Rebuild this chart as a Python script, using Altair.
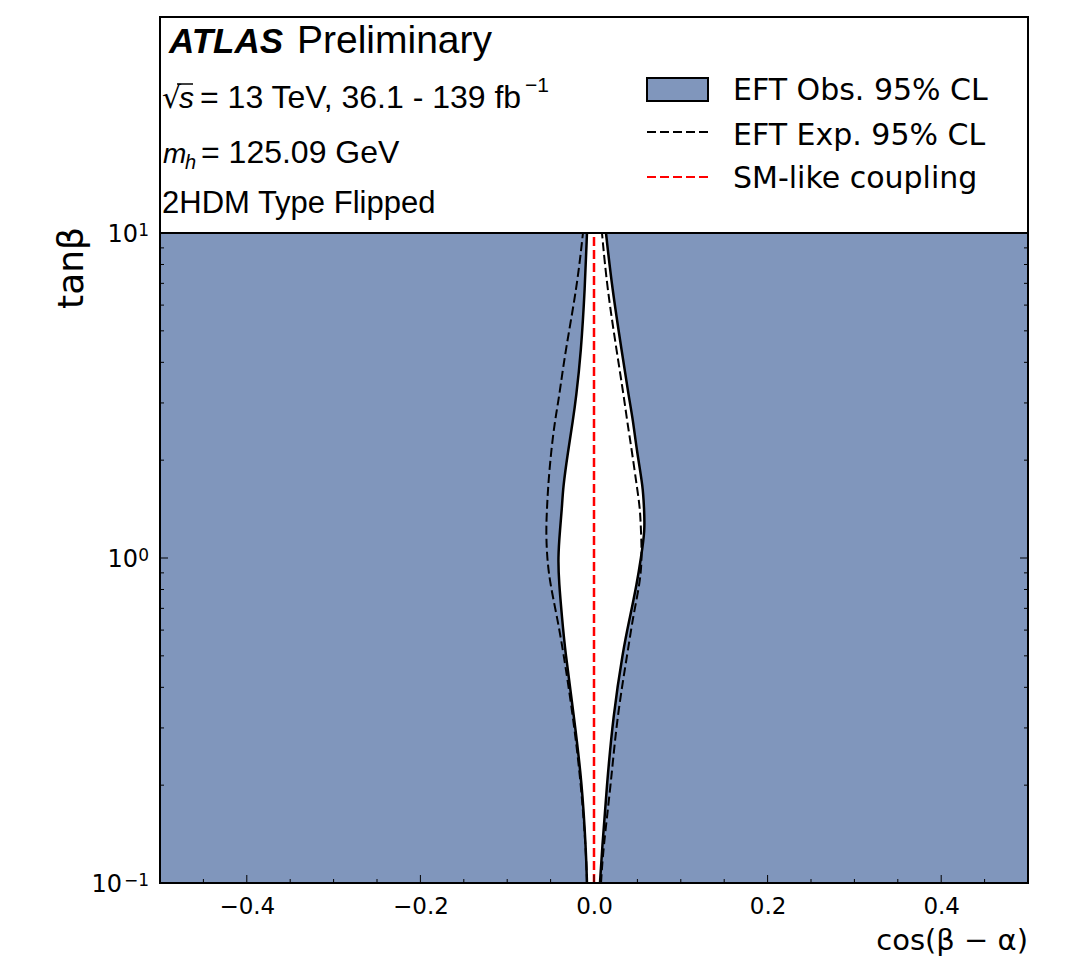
import altair as alt
import pandas as pd

# ---- data ----
tan_beta = [10.0, 6.82, 4.27, 3.11, 2.66, 2.12, 1.65, 1.425, 1.22, 1.0, 0.838, 0.659, 0.521, 0.324, 0.203, 0.126, 0.1]
obs_low  = [-0.0081, -0.0104, -0.0150, -0.0207, -0.0242, -0.0300, -0.0357, -0.0369, -0.0392, -0.0415, -0.0403, -0.0369, -0.0334, -0.0230, -0.0138, -0.0092, -0.0081]
obs_high = [0.0138, 0.0207, 0.0323, 0.0403, 0.0449, 0.0495, 0.0565, 0.0576, 0.0588, 0.0541, 0.0495, 0.0415, 0.0334, 0.0219, 0.0150, 0.0092, 0.0069]
exp_low  = [-0.0127, -0.0196, -0.0334, -0.0403, -0.0449, -0.0495, -0.0530, -0.0541, -0.0553, -0.0541, -0.0507, -0.0426, -0.0357, -0.0240, -0.0150, -0.0092, -0.0081]
exp_high = [0.0092, 0.0150, 0.0265, 0.0346, 0.0380, 0.0438, 0.0495, 0.0530, 0.0541, 0.0553, 0.0530, 0.0449, 0.0392, 0.0265, 0.0196, 0.0104, 0.0081]
sm_coupling = [0.0]

x_range = [-0.5, 0.5]
tan_range = [0.1, 10.0]
y_domain = [0.1, 46.2]

x_major_ticks = [-0.4, -0.2, 0.0, 0.2, 0.4]
x_minor_ticks = [-0.45, -0.35, -0.3, -0.25, -0.15, -0.1, -0.05, 0.05, 0.1, 0.15, 0.25, 0.3, 0.35, 0.45]
y_major_ticks = [0.1, 1.0, 10.0]
y_tick_base = ["10", "10", "10"]
y_tick_exponent = ["\u22121", "0", "1"]
y_minor_ticks = [0.2, 0.3, 0.4, 0.5, 0.6, 0.7, 0.8, 0.9, 2, 3, 4, 5, 6, 7, 8, 9]

legend_labels = ["EFT Obs. 95% CL", "EFT Exp. 95% CL", "SM-like coupling"]

BLUE = "#8096bc"
W, H = 868, 866
INTERP = "basis"

ysc = alt.Scale(type="log", domain=y_domain, nice=False)
xsc = alt.Scale(domain=x_range, nice=False, zero=False)

df = pd.DataFrame({"tan": tan_beta, "obs_low": obs_low, "obs_high": obs_high,
                   "exp_low": exp_low, "exp_high": exp_high})

x_axis = alt.Axis(values=x_major_ticks,
                  labelExpr="replace(format(datum.value, '.1f'), '-', '\u2212')",
                  ticks=False, domain=False, grid=False, labelFont="DejaVu Sans",
                  labelFontSize=23, labelColor="black", labelPadding=12,
                  labelFlush=False, labelOverlap=False)


def X(field):
    return alt.X(field, scale=xsc, axis=x_axis, title=None)


def Y(field):
    return alt.Y(field, scale=ysc, axis=None)


bg = pd.DataFrame({"x0": [x_range[0]], "x1": [x_range[1]], "y0": [tan_range[0]], "y1": [tan_range[1]]})
blue = alt.Chart(bg).mark_rect(color=BLUE).encode(
    x=X("x0:Q"), x2="x1:Q", y=Y("y0:Q"), y2="y1:Q")

white = alt.Chart(df).mark_area(orient="horizontal", interpolate=INTERP, color="white", opacity=1).encode(
    y=Y("tan:Q"), x=X("obs_low:Q"), x2="obs_high:Q")


def curve(col, dashed):
    kw = dict(interpolate=INTERP, color="black", strokeWidth=2.5)
    if dashed:
        kw.update(strokeDash=[9, 4], strokeWidth=2)
    return alt.Chart(df).mark_line(**kw).encode(
        x=X(f"{col}:Q"), y=Y("tan:Q"), order=alt.Order("tan:Q"))


smdf = pd.DataFrame({"x": sm_coupling, "y0": [tan_range[0]], "y1": [tan_range[1]]})
red = alt.Chart(smdf).mark_rule(color="red", strokeDash=[9, 4], strokeWidth=2.5).encode(
    x=X("x:Q"), y=Y("y0:Q"), y2="y1:Q")

toprule = alt.Chart(pd.DataFrame({"y": [tan_range[1]]})).mark_rule(color="black", strokeWidth=2).encode(
    y=Y("y:Q"), x=alt.value(0), x2=alt.value(W))


def yticks(vals, length):
    d = pd.DataFrame({"v": vals})
    left = alt.Chart(d).mark_rule(color="black", strokeWidth=1).encode(
        y=Y("v:Q"), x=alt.value(0), x2=alt.value(length))
    right = alt.Chart(d).mark_rule(color="black", strokeWidth=1).encode(
        y=Y("v:Q"), x=alt.value(W), x2=alt.value(W - length))
    return [left, right]


def xticks(vals, length):
    d = pd.DataFrame({"v": vals})
    return [alt.Chart(d).mark_rule(color="black", strokeWidth=1).encode(
        x=X("v:Q"), y=alt.value(H), y2=alt.value(H - length))]


# y tick labels: "10" with a raised exponent, whole label right-aligned next to the axis
ylab_df = pd.DataFrame({"v": y_major_ticks, "base": y_tick_base, "exp": y_tick_exponent})
ylab_base = alt.Chart(ylab_df).transform_calculate(
    bx="length(datum.exp) > 1 ? -38 : -22").mark_text(
    align="right", baseline="alphabetic", dy=9, font="DejaVu Sans", fontSize=24, color="black").encode(
    y=Y("v:Q"), x=alt.X("bx:Q", scale=None, axis=None), text="base:N")
ylab_exp = alt.Chart(ylab_df).mark_text(
    align="right", baseline="alphabetic", dy=3, font="DejaVu Sans", fontSize=17, color="black").encode(
    y=Y("v:Q"), x=alt.value(-11), text="exp:N")


def txt(s, x, y, size, font="Liberation Sans", style="normal", weight="normal",
        align="left", baseline="alphabetic", angle=0):
    return alt.Chart(pd.DataFrame({"t": [s]})).mark_text(
        align=align, baseline=baseline, font=font, fontSize=size, fontStyle=style,
        fontWeight=weight, angle=angle, color="black").encode(
        text="t:N", x=alt.value(x), y=alt.value(y))


one = pd.DataFrame({"a": [0]})
leg_box = alt.Chart(one).mark_rect(fill=BLUE, stroke="black", strokeWidth=2).encode(
    x=alt.value(487), x2=alt.value(548), y=alt.value(61), y2=alt.value(84))
leg_exp = alt.Chart(one).mark_rule(color="black", strokeDash=[9, 4], strokeWidth=2.2).encode(
    x=alt.value(487), x2=alt.value(548), y=alt.value(115))
leg_sm = alt.Chart(one).mark_rule(color="red", strokeDash=[9, 4], strokeWidth=2.2).encode(
    x=alt.value(487), x2=alt.value(548), y=alt.value(160))
vinculum = alt.Chart(one).mark_rule(color="black", strokeWidth=1.5).encode(
    x=alt.value(17), x2=alt.value(33), y=alt.value(67))

frame = alt.Chart(one).mark_rect(fillOpacity=0, stroke="black", strokeWidth=2).encode(
    x=alt.value(0), x2=alt.value(W), y=alt.value(0), y2=alt.value(H))

texts = [
    txt("ATLAS", 9, 36, 35, style="italic", weight="bold"),
    txt("Preliminary", 137, 36, 39),
    txt("\u221a", 2, 91, 30, font="DejaVu Sans"),
    txt("s", 19, 91, 30, style="italic"),
    txt("= 13 TeV, 36.1 - 139 fb", 40, 91, 32),
    txt("\u22121", 365, 75, 21),
    txt("m", 3, 146, 28, style="italic"),
    txt("h", 25, 152, 20, style="italic"),
    txt("= 125.09 GeV", 41, 146, 32),
    txt("2HDM Type Flipped", 2, 196, 31),
    txt(legend_labels[0], 573, 83, 30, font="DejaVu Sans"),
    txt(legend_labels[1], 573, 128, 30, font="DejaVu Sans"),
    txt(legend_labels[2], 573, 171, 30, font="DejaVu Sans"),
    txt("tan\u03b2", -88, 210, 36, font="DejaVu Sans", align="right", baseline="middle", angle=270),
    txt("cos(\u03b2 \u2212 \u03b1)", W, 933, 29, font="DejaVu Sans", align="right"),
]

layers = [blue, white, red,
          curve("exp_low", True), curve("exp_high", True),
          curve("obs_low", False), curve("obs_high", False),
          toprule]
layers += yticks(y_major_ticks, 8) + yticks(y_minor_ticks, 4)
layers += xticks(x_major_ticks, 8) + xticks(x_minor_ticks, 4)
layers += [ylab_base, ylab_exp]
layers += [leg_box, leg_exp, leg_sm, vinculum] + texts + [frame]

chart = alt.layer(*layers).properties(
    width=W, height=H,
    autosize=alt.AutoSizeParams(type="none"),
    padding={"left": 152, "top": 9, "right": 45, "bottom": 75},
    background="white",
).configure_view(strokeWidth=0)

chart.save("out.html", embed_options={"renderer": "svg", "actions": False})
